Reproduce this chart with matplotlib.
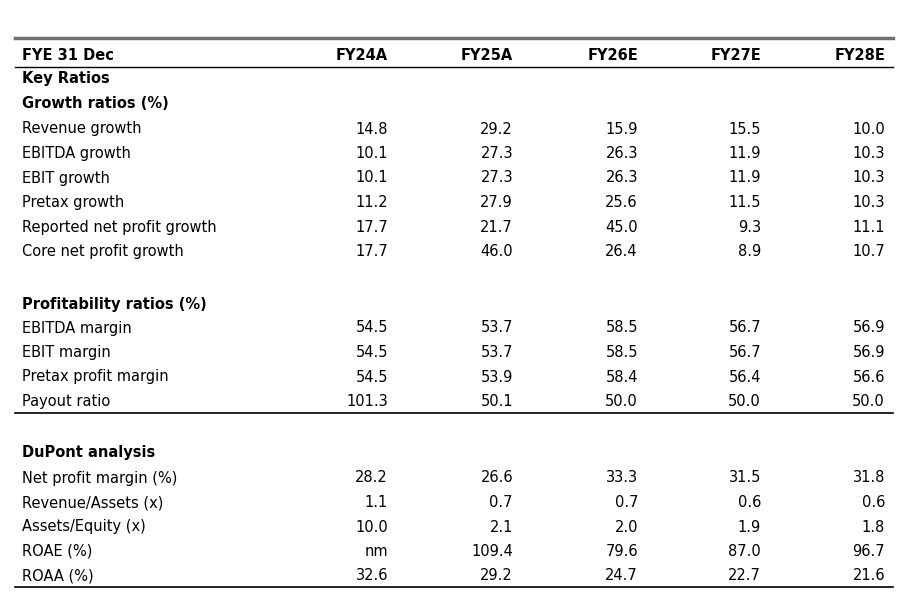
import matplotlib.pyplot as plt

W, H = 901, 598

years = ["FY24A", "FY25A", "FY26E", "FY27E", "FY28E"]

growth_labels = ["Revenue growth", "EBITDA growth", "EBIT growth", "Pretax growth",
                 "Reported net profit growth", "Core net profit growth"]
growth_vals = [
    ["14.8", "29.2", "15.9", "15.5", "10.0"],
    ["10.1", "27.3", "26.3", "11.9", "10.3"],
    ["10.1", "27.3", "26.3", "11.9", "10.3"],
    ["11.2", "27.9", "25.6", "11.5", "10.3"],
    ["17.7", "21.7", "45.0", "9.3", "11.1"],
    ["17.7", "46.0", "26.4", "8.9", "10.7"],
]

profit_labels = ["EBITDA margin", "EBIT margin", "Pretax profit margin", "Payout ratio"]
profit_vals = [
    ["54.5", "53.7", "58.5", "56.7", "56.9"],
    ["54.5", "53.7", "58.5", "56.7", "56.9"],
    ["54.5", "53.9", "58.4", "56.4", "56.6"],
    ["101.3", "50.1", "50.0", "50.0", "50.0"],
]

dupont_labels = ["Net profit margin (%)", "Revenue/Assets (x)", "Assets/Equity (x)",
                 "ROAE (%)", "ROAA (%)"]
dupont_vals = [
    ["28.2", "26.6", "33.3", "31.5", "31.8"],
    ["1.1", "0.7", "0.7", "0.6", "0.6"],
    ["10.0", "2.1", "2.0", "1.9", "1.8"],
    ["nm", "109.4", "79.6", "87.0", "96.7"],
    ["32.6", "29.2", "24.7", "22.7", "21.6"],
]

col_right = [388, 513, 638, 761, 885]
x_left = 22
fs = 10.5

fig = plt.figure(figsize=(W / 100, H / 100), dpi=100)
fig.patch.set_facecolor("white")


def fy(y):
    return 1 - y / H


def hline(y, color, lw):
    fig.add_artist(plt.Line2D([15 / W, 893 / W], [fy(y), fy(y)], color=color, lw=lw))


def txt(x, y, s, ha="left", bold=False):
    fig.text(x / W, fy(y), s, ha=ha, va="center", fontsize=fs,
             fontweight="bold" if bold else "normal", color="black")


hline(38, "#707070", 2.5)
txt(x_left, 55, "FYE 31 Dec", bold=True)
for x, yr in zip(col_right, years):
    txt(x, 55, yr, ha="right", bold=True)
hline(67, "black", 1.0)

txt(x_left, 79, "Key Ratios", bold=True)
txt(x_left, 104, "Growth ratios (%)", bold=True)


def rows(labels, vals, y0, step=24.5):
    for i, (lab, row) in enumerate(zip(labels, vals)):
        y = y0 + i * step
        txt(x_left, y, lab)
        for x, v in zip(col_right, row):
            txt(x, y, v, ha="right")


rows(growth_labels, growth_vals, 129)
txt(x_left, 304, "Profitability ratios (%)", bold=True)
rows(profit_labels, profit_vals, 328)
hline(413, "black", 1.2)
txt(x_left, 453, "DuPont analysis", bold=True)
rows(dupont_labels, dupont_vals, 478)
hline(587, "black", 1.2)

fig.savefig("out.png", dpi=100)
